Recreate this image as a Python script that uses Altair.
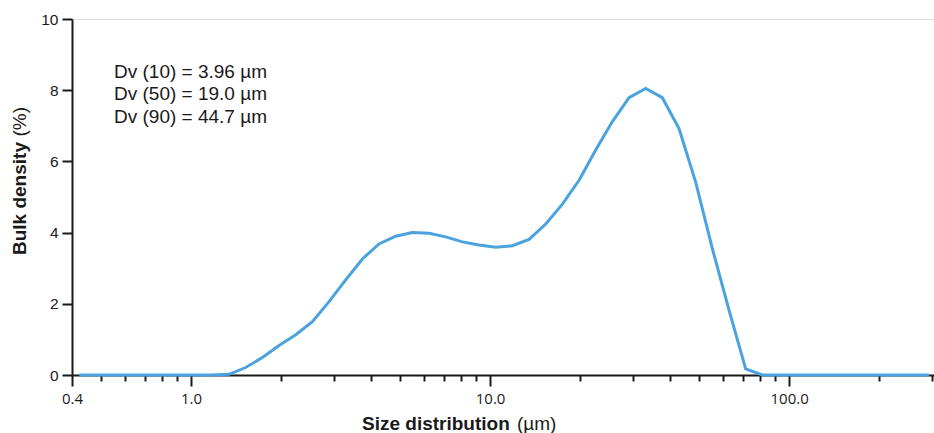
import altair as alt
import pandas as pd

# ---- data ----
size_um = [0.423, 0.481, 0.546, 0.621, 0.706, 0.802, 0.912, 1.037, 1.179, 1.340,
           1.523, 1.733, 1.969, 2.239, 2.546, 2.894, 3.290, 3.741, 4.253, 4.835,
           5.497, 6.250, 7.106, 8.079, 9.185, 10.44, 11.87, 13.50, 15.35, 17.45,
           19.84, 22.55, 25.64, 29.15, 33.14, 37.67, 42.83, 48.69, 55.36, 62.94,
           71.55, 81.35, 92.49, 105.2, 119.5, 135.9, 154.5, 175.7, 199.7, 227.0,
           258.1, 293.4]
density_pct = [0, 0, 0, 0, 0, 0, 0, 0, 0, 0.02,
               0.21, 0.49, 0.83, 1.13, 1.50, 2.06, 2.67, 3.26, 3.68, 3.90,
               4.00, 3.98, 3.88, 3.74, 3.65, 3.59, 3.63, 3.81, 4.24, 4.80,
               5.47, 6.32, 7.12, 7.79, 8.05, 7.79, 6.92, 5.42, 3.55, 1.82,
               0.17, 0, 0, 0, 0, 0, 0, 0, 0, 0,
               0, 0]

x_tick_values = [0.4, 0.5, 0.6, 0.7, 0.8, 0.9, 1, 2, 3, 4, 5, 6, 7, 8, 9,
                 10, 20, 30, 40, 50, 60, 70, 80, 90, 100, 200, 300]
x_major_ticks = [0.4, 1, 10, 100]
x_major_labels = ["0.4", "1.0", "10.0", "100.0"]
y_tick_values = [0, 2, 4, 6, 8, 10]

annotation_lines = ["Dv (10) = 3.96 µm", "Dv (50) = 19.0 µm", "Dv (90) = 44.7 µm"]
x_title_bold = "Size distribution"
x_title_unit = "(µm)"
y_title_bold = "Bulk density"
y_title_unit = "(%)"

df = pd.DataFrame({"size": size_um, "density": density_pct})

major_test = " || ".join(f"datum.value == {v}" for v in x_major_ticks)
label_expr = "".join(f"datum.value == {v} ? '{l}' : " for v, l in zip(x_major_ticks, x_major_labels)) + "''"

AXIS_COLOR = "#1a1a1a"
TEXT_FONT = "Liberation Sans"

x_enc = alt.X(
    "size:Q",
    scale=alt.Scale(type="log", domain=[0.4, 305], nice=False),
    axis=alt.Axis(
        title=None,
        values=x_tick_values,
        labelExpr=label_expr,
        labelOverlap=False,
        labelFlush=False,
        labelBound=False,
        labelFont="Open Sans",
        labelFontSize=15,
        labelColor=AXIS_COLOR,
        labelPadding=5,
        tickSize={"condition": {"test": major_test, "value": 11}, "value": 6},
        tickColor=AXIS_COLOR,
        tickWidth=2,
        domainColor=AXIS_COLOR,
        domainWidth=2,
        grid=False,
    ),
)
y_enc = alt.Y(
    "density:Q",
    scale=alt.Scale(domain=[0, 10], nice=False),
    axis=alt.Axis(
        title=None,
        values=y_tick_values,
        labelFont=TEXT_FONT,
        labelFontSize=15.5,
        labelColor=AXIS_COLOR,
        labelPadding=4,
        tickSize=10,
        tickColor=AXIS_COLOR,
        tickWidth=2,
        domainColor=AXIS_COLOR,
        domainWidth=2,
        grid=False,
    ),
)

line = alt.Chart(df).mark_line(color="#4aa3df", strokeWidth=3).encode(x=x_enc, y=y_enc)

annot = alt.Chart(pd.DataFrame({"t": [0]})).mark_text(
    text=annotation_lines, align="left", baseline="alphabetic",
    font=TEXT_FONT, fontSize=19, lineHeight=22.7, color=AXIS_COLOR,
).encode(x=alt.value(42), y=alt.value(58.5))

xt1 = alt.Chart(pd.DataFrame({"t": [x_title_bold]})).mark_text(
    align="left", baseline="alphabetic", font=TEXT_FONT, fontSize=19,
    fontWeight="bold", color=AXIS_COLOR,
).encode(text="t:N", x=alt.value(290), y=alt.value(410.5))

xt2 = alt.Chart(pd.DataFrame({"t": [x_title_unit]})).mark_text(
    align="left", baseline="alphabetic", font=TEXT_FONT, fontSize=19,
    color=AXIS_COLOR,
).encode(text="t:N", x=alt.value(445), y=alt.value(410.5))

yt1 = alt.Chart(pd.DataFrame({"t": [y_title_bold]})).mark_text(
    align="left", baseline="alphabetic", font=TEXT_FONT, fontSize=19,
    fontWeight="bold", angle=270, color=AXIS_COLOR,
).encode(text="t:N", x=alt.value(-46), y=alt.value(236))

yt2 = alt.Chart(pd.DataFrame({"t": [y_title_unit]})).mark_text(
    align="left", baseline="alphabetic", font=TEXT_FONT, fontSize=19,
    angle=270, color=AXIS_COLOR,
).encode(text="t:N", x=alt.value(-46), y=alt.value(117.5))

chart = alt.layer(line, annot, xt1, xt2, yt1, yt2).properties(
    width=862,
    height=356,
    autosize=alt.AutoSizeParams(type="none"),
    padding={"left": 72, "top": 19, "right": 0, "bottom": 58},
).configure_view(stroke=None).configure(background="white")

chart.save("out.html", embed_options={"renderer": "svg", "actions": False})
